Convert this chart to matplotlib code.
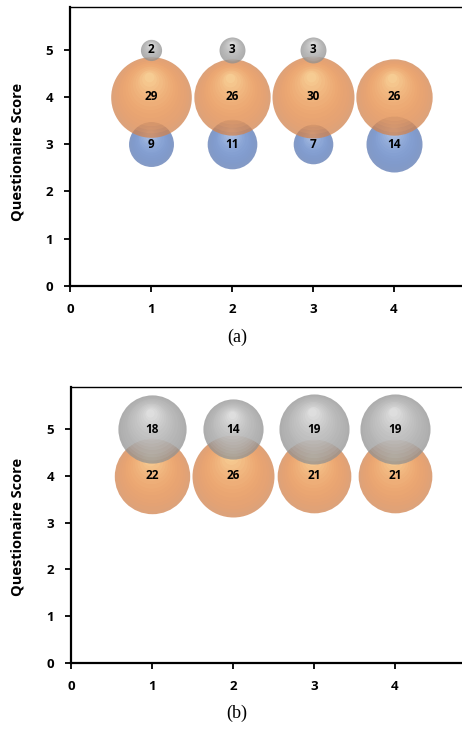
import numpy as np
import matplotlib
matplotlib.use("Agg")
import matplotlib.pyplot as plt
from matplotlib.transforms import offset_copy
from matplotlib.colors import to_rgb

# datos (a)
a_x3 = [1, 2, 3, 4]
a_n3 = [9, 11, 7, 14]
a_x4 = [1, 2, 3, 4]
a_n4 = [29, 26, 30, 26]
a_x5 = [1, 2, 3]
a_n5 = [2, 3, 3]

# datos (b)
b_x4 = [1, 2, 3, 4]
b_n4 = [22, 26, 21, 21]
b_x5 = [1, 2, 3, 4]
b_n5 = [18, 14, 19, 19]

xticks = [0, 1, 2, 3, 4]
yticks = [0, 1, 2, 3, 4, 5]

# (borde, medio, brillo)
orange = ("#c47340", "#f2a469", "#ffe6ad")
blue = ("#4a68a3", "#7c9bd5", "#cfdcf3")
gray = ("#7e7e7e", "#bcbcbc", "#f6f6f6")

FONT = "Open Sans"
DPI = 100
MAXD = 82 * 72 / DPI   # diametro de la burbuja mayor, en puntos


def mix(c1, c2, t):
    c1, c2 = np.array(to_rgb(c1)), np.array(to_rgb(c2))
    return tuple(c1 + (c2 - c1) * t)


def esferas(ax, fig, xs, y, vals, vmax, cols, z):
    for xv, v in zip(xs, vals):
        d = MAXD * np.sqrt(v / vmax)
        r = d / 2
        ax.scatter([xv], [y], s=d ** 2, color=mix(cols[0], cols[1], 0.3),
                   alpha=0.74, lw=0, zorder=z)
        n = 14
        for j in range(1, n + 1):
            f = 1 - 0.88 * j / n
            tr = offset_copy(ax.transData, fig=fig, x=-0.05 * (1 - f) * r,
                             y=0.55 * (1 - f) * r, units="points")
            c = mix(cols[1], cols[2], (j / n) ** 1.6)
            ax.scatter([xv], [y], s=(d * f) ** 2, color=c, alpha=0.2,
                       lw=0, zorder=z, transform=tr)


def etiquetas(ax, xs, y, vals):
    for xv, v in zip(xs, vals):
        ax.text(xv, y, str(v), ha="center", va="center", fontsize=8.5,
                fontweight="bold", family=FONT, zorder=20)


def ejes(ax):
    ax.set_xlim(0, 5)
    ax.set_ylim(0, 5.9)
    ax.set_xticks(xticks)
    ax.set_yticks(yticks)
    for s in ["left", "bottom"]:
        ax.spines[s].set_linewidth(1.6)
    ax.spines["top"].set_linewidth(1.0)
    ax.spines["right"].set_visible(False)
    ax.tick_params(direction="out", length=4, width=1.3, pad=8,
                   labelsize=9.5)
    for lab in ax.get_xticklabels() + ax.get_yticklabels():
        lab.set_fontweight("bold")
        lab.set_family(FONT)


fig = plt.figure(figsize=(4.62, 7.29), dpi=DPI)

ax1 = fig.add_axes([70 / 462, 1 - 286 / 729, 405 / 462, 279 / 729])
ax2 = fig.add_axes([71 / 462, 1 - 663 / 729, 405 / 462, 276 / 729])

vmax_a = max(a_n3 + a_n4 + a_n5)
esferas(ax1, fig, a_x3, 3, a_n3, vmax_a, blue, 3)
esferas(ax1, fig, a_x4, 4, a_n4, vmax_a, orange, 4)
esferas(ax1, fig, a_x5, 5, a_n5, vmax_a, gray, 5)
etiquetas(ax1, a_x3, 3, a_n3)
etiquetas(ax1, a_x4, 4, a_n4)
etiquetas(ax1, a_x5, 5, a_n5)

vmax_b = max(b_n4 + b_n5)
esferas(ax2, fig, b_x4, 4, b_n4, vmax_b, orange, 4)
esferas(ax2, fig, b_x5, 5, b_n5, vmax_b, gray, 5)
etiquetas(ax2, b_x4, 4, b_n4)
etiquetas(ax2, b_x5, 5, b_n5)

ejes(ax1)
ejes(ax2)

fig.text(18 / 462, 1 - 152 / 729, "Questionaire Score", rotation=90,
         ha="center", va="center", fontsize=10.5, fontweight="bold", family=FONT)
fig.text(18 / 462, 1 - 527 / 729, "Questionaire Score", rotation=90,
         ha="center", va="center", fontsize=10.5, fontweight="bold", family=FONT)
fig.text(237 / 462, 1 - 337 / 729, "(a)", ha="center", va="center",
         fontsize=13, family="Liberation Serif")
fig.text(237 / 462, 1 - 713 / 729, "(b)", ha="center", va="center",
         fontsize=13, family="Liberation Serif")

fig.savefig("out.png", dpi=DPI)
